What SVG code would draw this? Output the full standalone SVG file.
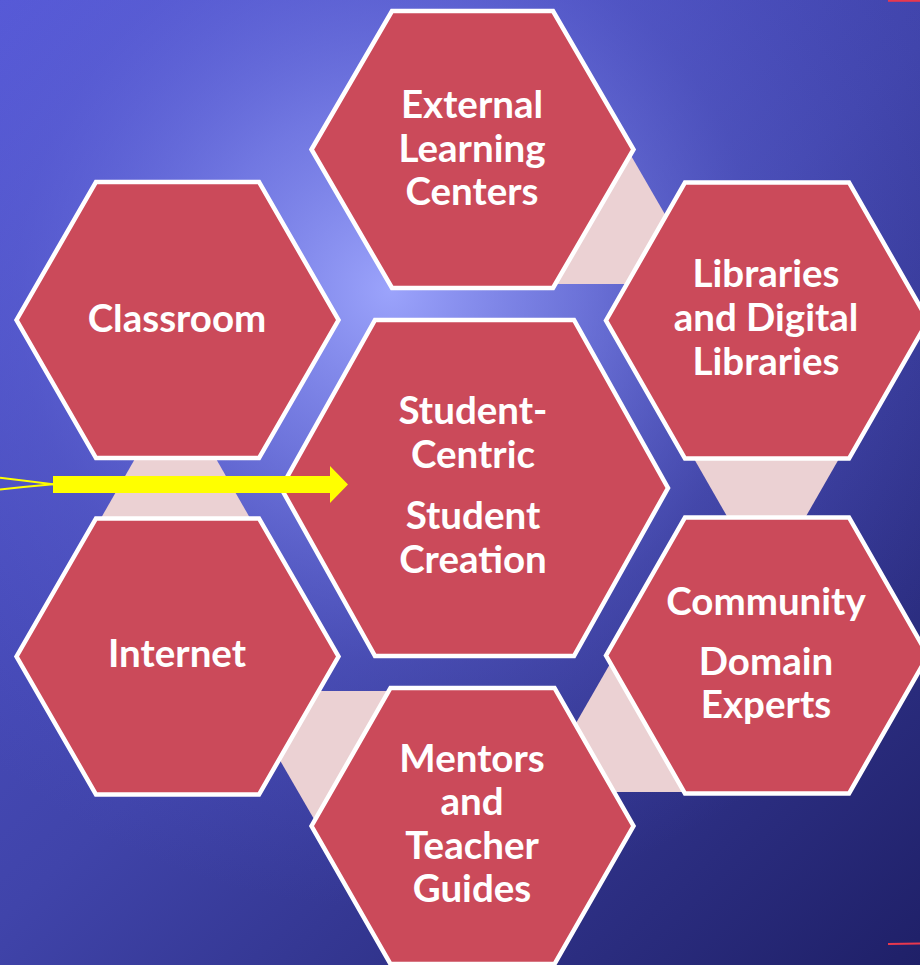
<svg xmlns="http://www.w3.org/2000/svg" width="920" height="965" viewBox="0 0 920 965">
  <defs>
    <linearGradient id="bgBase" gradientUnits="userSpaceOnUse" x1="0" y1="0" x2="920" y2="965">
      <stop offset="0" stop-color="#5558D6"/>
      <stop offset="0.5" stop-color="#4044AA"/>
      <stop offset="1" stop-color="#1F2068"/>
    </linearGradient>
    <radialGradient id="bgGlow" gradientUnits="userSpaceOnUse" cx="390" cy="290" r="620">
      <stop offset="0" stop-color="#A0A8FF" stop-opacity="0.95"/>
      <stop offset="0.3" stop-color="#8A92F6" stop-opacity="0.6"/>
      <stop offset="0.6" stop-color="#6A70E0" stop-opacity="0.25"/>
      <stop offset="1" stop-color="#5558D6" stop-opacity="0"/>
    </radialGradient>
    <style>
      .hex { fill: #CB4A5A; stroke: #FFFFFF; stroke-width: 4.5; stroke-linejoin: miter; }
      .link { fill: #EBD1D3; stroke: none; }
      .label { font-family: Lato, "Open Sans", "Liberation Sans", sans-serif; font-weight: bold; font-size: 38.5px; fill: #FFFFFF; text-anchor: middle; }
    </style>
  </defs>

  <!-- background -->
  <rect x="0" y="0" width="920" height="965" fill="url(#bgBase)"/>
  <rect x="0" y="0" width="920" height="965" fill="url(#bgGlow)"/>

  <!-- edge accents -->
  <line x1="888" y1="0.8" x2="920" y2="0.8" stroke="#E8384E" stroke-width="2"/>
  <line x1="888" y1="944" x2="920" y2="943.5" stroke="#E8384E" stroke-width="2"/>

  <!-- connecting bands between neighbouring hexagons -->
  <g id="connectors">
    <polygon class="link" points="622,140 674,230 640,284 548,284"/>
    <polygon class="link" points="140,450 211,450 254,525 97,525"/>
    <polygon class="link" points="689,450 844,450 801,525 732,525"/>
    <polygon class="link" points="310,691 395,691 360,780 318,826 274,750"/>
    <polygon class="link" points="618,650 572,730 605,792 690,792"/>
  </g>

  <g id="node-external">
    <polygon class="hex" points="311.5,149.5 392,11 553,11 633.5,149.5 553,288 392,288"/>
    <text class="label" x="472" y="118">External</text>
    <text class="label" x="472" y="162">Learning</text>
    <text class="label" x="472" y="205">Centers</text>
  </g>

  <g id="node-classroom">
    <polygon class="hex" points="16.5,320 96,182 259,182 338.5,320 259,458 96,458"/>
    <text class="label" x="177" y="332">Classroom</text>
  </g>

  <g id="node-internet">
    <polygon class="hex" points="16.5,656.5 96,518.5 259,518.5 338.5,656.5 259,794.5 96,794.5"/>
    <text class="label" x="177" y="667">Internet</text>
  </g>

  <g id="node-libraries">
    <polygon class="hex" points="606,320.5 685,182.5 849,182.5 928,320.5 849,458.5 685,458.5"/>
    <text class="label" x="766" y="287">Libraries</text>
    <text class="label" x="766" y="331">and Digital</text>
    <text class="label" x="766" y="375">Libraries</text>
  </g>

  <g id="node-community">
    <polygon class="hex" points="606,655.5 685,517.5 849,517.5 928,655.5 849,793.5 685,793.5"/>
    <text class="label" x="766" y="615">Community</text>
    <text class="label" x="766" y="675">Domain</text>
    <text class="label" x="766" y="718">Experts</text>
  </g>

  <g id="node-mentors">
    <polygon class="hex" points="311.5,826 390.5,688 554.5,688 633.5,826 554.5,964 390.5,964"/>
    <text class="label" x="472" y="772">Mentors</text>
    <text class="label" x="472" y="815">and</text>
    <text class="label" x="472" y="859">Teacher</text>
    <text class="label" x="472" y="902">Guides</text>
  </g>

  <g id="node-center">
    <polygon class="hex" points="281,488 375,320 574,320 668,488 574,656 375,656"/>
    <text class="label" x="473" y="424">Student-</text>
    <text class="label" x="473" y="468">Centric</text>
    <text class="label" x="473" y="529">Student</text>
    <text class="label" x="473" y="573">Creation</text>
  </g>

  <!-- yellow pointer arrow -->
  <g id="pointer">
    <path d="M0,477.7 Q28,481 53,484.3" fill="none" stroke="#FFFF00" stroke-width="2"/>
    <path d="M0,489.5 Q28,486.5 53,484.3" fill="none" stroke="#FFFF00" stroke-width="2"/>
    <polygon points="53,476 330,476 330,466 348,484.5 330,503 330,493 53,493" fill="#FFFF00"/>
  </g>
</svg>
